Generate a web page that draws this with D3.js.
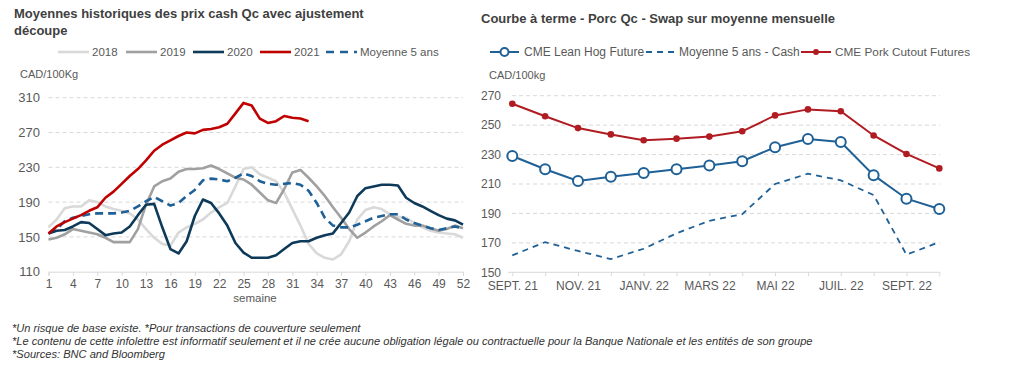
<!DOCTYPE html>
<html><head><meta charset="utf-8">
<script src="https://cdn.jsdelivr.net/npm/d3@7"></script>
<style>
body{margin:0;background:#fff;}
svg{display:block;font-family:"Liberation Sans",Arial,sans-serif;}
</style></head><body>
<svg id="c" width="1024" height="366"></svg>
<script>
// ---------- Left chart data ----------
const weeks = d3.range(1, 53);
const weekTicks = [1,4,7,10,13,16,19,22,25,28,31,34,37,40,43,46,49,52];
const leftYTicks = [110,150,190,230,270,310];
const s2018 = [161,170,183,185,185,192,190,185,182,180,177,170,159,149,142,140,155,161,165,170,178,184,189,208,228,230,222,218,214,201,182,163,142,131,126,124,130,145,170,181,184,182,176,173,172,166,161,157,155,154,153,149];
const s2019 = [147,149,153,159,157,155,153,149,144,144,144,159,187,208,214,217,225,228,228,229,232,228,223,218,216,210,201,192,189,205,224,227,218,208,197,184,172,159,149,155,162,168,175,170,165,163,163,160,157,159,163,160];
const s2020 = [154,157,158,162,167,166,159,152,154,155,162,175,187,188,161,136,131,145,174,193,189,177,163,143,132,126,126,126,129,136,143,145,145,149,152,154,166,178,197,206,208,210,210,209,195,189,185,180,175,171,169,164];
const s2021 = [154,162,167,171,175,180,184,195,202,211,220,228,238,249,256,261,266,270,269,273,274,276,280,292,304,301,286,281,283,289,287,286,283];
const sAvg5 = [154,159,168,172,174,176,177,177,177,178,180,185,191,196,191,186,189,197,204,215,217,216,214,218,223,220,214,211,210,211,212,210,203,189,172,163,161,161,164,168,172,174,176,176,170,166,163,160,158,160,162,160];

// ---------- Right chart data ----------
const months = ["SEPT. 21","OCT. 21","NOV. 21","DÉC. 21","JANV. 22","FÉVR. 22","MARS 22","AVR. 22","MAI 22","JUIN 22","JUIL. 22","AOÛT 22","SEPT. 22","OCT. 22"];
const monthLabels = ["SEPT. 21","NOV. 21","JANV. 22","MARS 22","MAI 22","JUIL. 22","SEPT. 22"];
const rightYTicks = [150,170,190,210,230,250,270];
const leanHog = [229,220,212,215,217.5,220,222.5,225.5,235,240.5,238.5,216,200,193];
const cash5 = [161.5,170.5,164.5,159,166,176.5,185,189.5,210,217,212.5,202.5,162,170.5];
const cutout = [264.5,256,248,243.7,239.7,240.8,242.2,245.8,256.6,260.7,259.4,243,230.4,220.6];

const svg = d3.select("#c");
const txt = "#595959", grid = "#d9d9d9";

// ---------- Titles ----------
svg.append("text").attr("x",14).attr("y",18).attr("font-size",13).attr("font-weight","bold").attr("fill","#404040")
  .text("Moyennes historiques des prix cash Qc avec ajustement");
svg.append("text").attr("x",14).attr("y",35).attr("font-size",13).attr("font-weight","bold").attr("fill","#404040")
  .text("découpe");
svg.append("text").attr("x",481).attr("y",23).attr("font-size",13).attr("font-weight","bold").attr("fill","#404040")
  .text("Courbe à terme - Porc Qc - Swap sur moyenne mensuelle");

// ---------- Left chart ----------
const xL = d3.scaleLinear().domain([1,52]).range([48.5,463]);
const yL = d3.scaleLinear().domain([110,310]).range([271.7,97.7]);
const gL = svg.append("g");
gL.selectAll("line.grid").data(leftYTicks.filter(v=>v>110)).join("line")
  .attr("x1",48.5).attr("x2",463).attr("y1",d=>yL(d)).attr("y2",d=>yL(d))
  .attr("stroke",grid).attr("stroke-dasharray","4,3");
const axL = gL.append("g").attr("transform","translate(0,"+yL(110)+")")
  .call(d3.axisBottom(xL).tickValues(weekTicks).tickSize(4).tickPadding(4).tickFormat(d3.format("d")));
axL.select(".domain").attr("stroke",grid);
axL.selectAll(".tick line").attr("stroke",grid);
axL.selectAll("text").attr("fill",txt).attr("font-size",12).attr("font-family","Liberation Sans, Arial, sans-serif");
const ayL = gL.append("g").attr("transform","translate(40,0)")
  .call(d3.axisLeft(yL).tickValues(leftYTicks).tickSize(0).tickPadding(0));
ayL.select(".domain").remove();
ayL.selectAll("text").attr("fill",txt).attr("font-size",13).attr("font-family","Liberation Sans, Arial, sans-serif");
gL.append("text").attr("x",20).attr("y",78).attr("font-size",11).attr("fill",txt).text("CAD/100Kg");
gL.append("text").attr("x",255).attr("y",302).attr("text-anchor","middle").attr("font-size",11.5).attr("fill",txt).text("semaine");

const lineL = d3.line().x((d,i)=>xL(i+1)).y(d=>yL(d));
const seriesL = [
  {data:s2018,color:"#d9d9d9",dash:null},
  {data:s2019,color:"#a0a0a0",dash:null},
  {data:sAvg5,color:"#1f6096",dash:"8,5"},
  {data:s2020,color:"#0e3a5a",dash:null},
  {data:s2021,color:"#c00000",dash:null}
];
seriesL.forEach(s=>{
  gL.append("path").datum(s.data).attr("d",lineL).attr("fill","none")
    .attr("stroke",s.color).attr("stroke-width",2.6).attr("stroke-linejoin","round")
    .attr("stroke-dasharray",s.dash);
});

// Left legend
const legL = [
  {label:"2018",color:"#d9d9d9",dash:null,x:58},
  {label:"2019",color:"#a0a0a0",dash:null,x:126},
  {label:"2020",color:"#0e3a5a",dash:null,x:193},
  {label:"2021",color:"#c00000",dash:null,x:260},
  {label:"Moyenne 5 ans",color:"#1f6096",dash:"8,6",x:326}
];
legL.forEach(l=>{
  svg.append("line").attr("x1",l.x).attr("x2",l.x+31).attr("y1",52).attr("y2",52)
    .attr("stroke",l.color).attr("stroke-width",2.6).attr("stroke-dasharray",l.dash);
  svg.append("text").attr("x",l.x+34).attr("y",56).attr("font-size",11.5).attr("fill",txt).text(l.label);
});

// ---------- Right chart ----------
const xR = d3.scalePoint().domain(months).range([512.3,939.3]);
const yR = d3.scaleLinear().domain([150,270]).range([272.3,95.7]);
const gR = svg.append("g");
gR.selectAll("line.grid").data(rightYTicks.filter(v=>v>150)).join("line")
  .attr("x1",512).attr("x2",940).attr("y1",d=>yR(d)).attr("y2",d=>yR(d))
  .attr("stroke",grid).attr("stroke-dasharray","4,3");
const axR = gR.append("g").attr("transform","translate(0,"+yR(150)+")")
  .call(d3.axisBottom(xR).tickSize(4).tickPadding(5).tickFormat(d=>monthLabels.includes(d)?d:""));
axR.select(".domain").attr("stroke",grid).attr("d","M508,0H940");
axR.selectAll(".tick line").attr("stroke",grid);
axR.selectAll("text").attr("fill",txt).attr("font-size",12).attr("font-family","Liberation Sans, Arial, sans-serif");
const ayR = gR.append("g").attr("transform","translate(501,0)")
  .call(d3.axisLeft(yR).tickValues(rightYTicks).tickSize(0).tickPadding(0));
ayR.select(".domain").remove();
ayR.selectAll("text").attr("fill",txt).attr("font-size",12).attr("font-family","Liberation Sans, Arial, sans-serif");
gR.append("text").attr("x",489).attr("y",79).attr("font-size",11).attr("fill",txt).text("CAD/100kg");

const lineR = d3.line().x((d,i)=>xR(months[i])).y(d=>yR(d));
gR.append("path").datum(cash5).attr("d",lineR).attr("fill","none").attr("stroke","#1f6096")
  .attr("stroke-width",1.8).attr("stroke-dasharray","6,5");
gR.append("path").datum(cutout).attr("d",lineR).attr("fill","none").attr("stroke","#b01c22").attr("stroke-width",2);
gR.selectAll("circle.cut").data(cutout).join("circle").attr("cx",(d,i)=>xR(months[i])).attr("cy",d=>yR(d))
  .attr("r",3.3).attr("fill","#b01c22");
gR.append("path").datum(leanHog).attr("d",lineR).attr("fill","none").attr("stroke","#1f6096").attr("stroke-width",2);
gR.selectAll("circle.hog").data(leanHog).join("circle").attr("cx",(d,i)=>xR(months[i])).attr("cy",d=>yR(d))
  .attr("r",5).attr("fill","#fff").attr("stroke","#1f6096").attr("stroke-width",2);

// Right legend
svg.append("line").attr("x1",490).attr("x2",519).attr("y1",52).attr("y2",52).attr("stroke","#1f6096").attr("stroke-width",2);
svg.append("circle").attr("cx",504.5).attr("cy",52).attr("r",4).attr("fill","#fff").attr("stroke","#1f6096").attr("stroke-width",2);
svg.append("text").attr("x",524).attr("y",56).attr("font-size",12).attr("fill",txt).text("CME Lean Hog Future");
svg.append("line").attr("x1",646).attr("x2",676).attr("y1",52).attr("y2",52).attr("stroke","#1f6096").attr("stroke-width",2).attr("stroke-dasharray","6,5");
svg.append("text").attr("x",679).attr("y",56).attr("font-size",12).attr("fill",txt).text("Moyenne 5 ans - Cash");
svg.append("line").attr("x1",801).attr("x2",831).attr("y1",52).attr("y2",52).attr("stroke","#b01c22").attr("stroke-width",2);
svg.append("circle").attr("cx",816).attr("cy",52).attr("r",3).attr("fill","#b01c22");
svg.append("text").attr("x",835).attr("y",56).attr("font-size",11.8).attr("fill",txt).text("CME Pork Cutout Futures");

// ---------- Footnotes ----------
const notes = [
  "*Un risque de base existe. *Pour transactions de couverture seulement",
  "*Le contenu de cette infolettre est informatif seulement et il ne crée aucune obligation légale ou contractuelle pour la Banque Nationale et les entités de son groupe",
  "*Sources: BNC and Bloomberg"
];
svg.selectAll("text.note").data(notes).join("text").attr("class","note")
  .attr("x",12).attr("y",(d,i)=>332+i*13).attr("font-size",11.1).attr("font-style","italic").attr("fill","#333").text(d=>d);
</script>
</body></html>
